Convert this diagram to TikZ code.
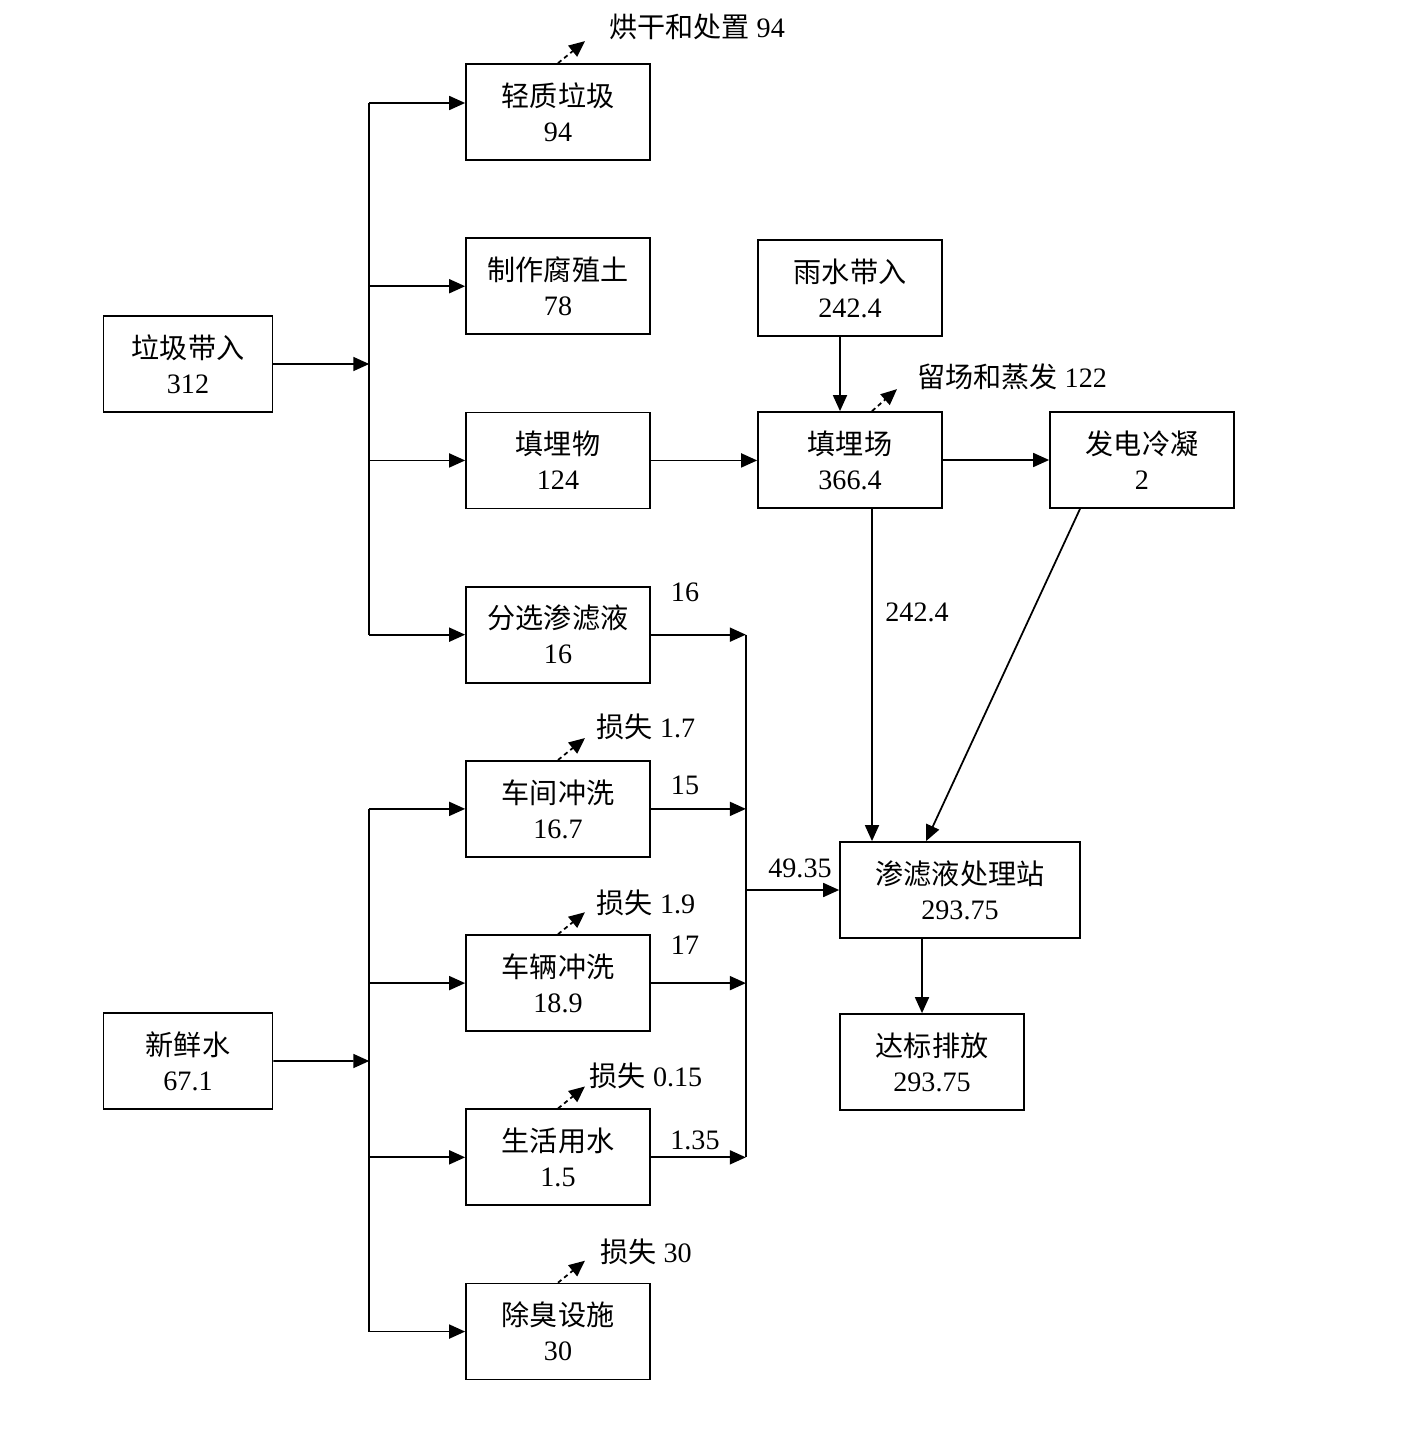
\documentclass[tikz,border=0pt]{standalone}
\usepackage{fontspec}
\setmainfont{Liberation Serif}
\newfontfamily\cjk{Noto Sans CJK SC}
\usetikzlibrary{arrows.meta,positioning,calc}
\newcommand{\zh}[1]{{\cjk #1}}

\begin{document}
\begin{tikzpicture}[
  x=0.02cm, y=-0.02cm,
  >={Triangle[length=0.32cm,width=0.28cm]},
  node distance=1.53cm,
  every node/.style={font=\fontsize{16pt}{20pt}\selectfont},
  flowbox/.style={draw, line width=1pt, minimum width=3.68cm, minimum height=1.92cm, align=center, inner sep=0pt},
  flowline/.style={->, line width=1pt},
  lossline/.style={->, line width=1pt, dash pattern=on 2.5pt off 2pt}
]
\useasboundingbox (0,0) rectangle (1402,1452);

% middle column
\node[flowbox] (light) at (558,112) {\zh{轻质垃圾}\\94};
\node[flowbox, below=of light] (humus) {\zh{制作腐殖土}\\78};
\node[flowbox, below=of humus] (fill) {\zh{填埋物}\\124};
\node[flowbox, below=of fill] (sort) {\zh{分选渗滤液}\\16};
\node[flowbox, below=of sort] (shop) {\zh{车间冲洗}\\16.7};
\node[flowbox, below=of shop] (truck) {\zh{车辆冲洗}\\18.9};
\node[flowbox, below=of truck] (domestic) {\zh{生活用水}\\1.5};
\node[flowbox, below=of domestic] (deodor) {\zh{除臭设施}\\30};

% sources and treatment
\node[flowbox, minimum width=3.38cm] (waste) at (188,364) {\zh{垃圾带入}\\312};
\node[flowbox, minimum width=3.38cm] (fresh) at (188,1061) {\zh{新鲜水}\\67.1};
\node[flowbox] (rain) at (850,288) {\zh{雨水带入}\\242.4};
\node[flowbox] (landfill) at (850,460) {\zh{填埋场}\\366.4};
\node[flowbox] (gen) at (1142,460) {\zh{发电冷凝}\\2};
\node[flowbox, minimum width=4.8cm] (station) at (960,890) {\zh{渗滤液处理站}\\293.75};
\node[flowbox] (outfall) at (932,1062) {\zh{达标排放}\\293.75};

% waste trunk
\coordinate (wasteJ) at ($(waste.east)!0.5!(humus.west |- waste.east)$);
\draw[flowline] (waste) -- (wasteJ);
\draw[line width=1pt] ([yshift=0.18cm]wasteJ |- light.west) -- (wasteJ |- sort.west);
\draw[flowline] ([yshift=0.18cm]wasteJ |- light.west) -- ([yshift=0.18cm]light.west);
\foreach \b in {humus,fill,sort}
  \draw[flowline] (wasteJ |- \b.west) -- (\b.west);

% fresh water trunk
\coordinate (freshJ) at ($(fresh.east)!0.5!(shop.west |- fresh.east)$);
\draw[flowline] (fresh) -- (freshJ);
\draw[line width=1pt] (freshJ |- shop.west) -- (freshJ |- deodor.west);
\foreach \b in {shop,truck,domestic,deodor}
  \draw[flowline] (freshJ |- \b.west) -- (\b.west);

% leachate collector
\coordinate (collect) at ([xshift=1.9cm]sort.east);
\draw[line width=1pt] (collect) -- (collect |- domestic.east);
\foreach \b in {sort,shop,truck,domestic}
  \draw[flowline] (\b.east) -- (collect |- \b.east);
\draw[flowline] (collect |- station.west) -- (station.west);
\node (v16) at (685,592) {16};
\node (v15) at (685,785) {15};
\node (v17) at (685,945) {17};
\node (v135) at (695,1140) {1.35};
\node (v4935) at (800,868) {49.35};

% losses
\foreach \b in {light,shop,truck,domestic,deodor}
  \coordinate (\b Out) at ($(\b.north)+(27,-22)$);
\foreach \b in {light,shop,truck,domestic,deodor}
  \draw[lossline] (\b.north) -- (\b Out);
\node (dry) at (697,27) {\zh{烘干和处置} 94};
\node (loss1) at (646,727) {\zh{损失} 1.7};
\node (loss2) at (646,903) {\zh{损失} 1.9};
\node (loss3) at (646,1076) {\zh{损失} 0.15};
\node (loss4) at (646,1252) {\zh{损失} 30};

% landfill
\coordinate (landOut) at ($([xshift=0.44cm]landfill.north)+(25,-22)$);
\draw[lossline] ([xshift=0.44cm]landfill.north) -- (landOut);
\node (evap) at (1012,377) {\zh{留场和蒸发} 122};
\draw[flowline] ([xshift=-0.2cm]rain.south) -- ([xshift=-0.2cm]landfill.north);
\draw[flowline] (fill.east) -- (fill.east -| landfill.west);
\draw[flowline] (landfill) -- (gen);
\coordinate (landDown) at ([xshift=0.44cm]landfill.south);
\draw[flowline] (landDown) -- (landDown |- station.north);
\node (v2424) at (917,612) {242.4};
\draw[flowline] ([xshift=-1.24cm]gen.south) -- ([xshift=-0.68cm]station.north);
\coordinate (outIn) at ([xshift=-0.2cm]outfall.north);
\draw[flowline] (outIn |- station.south) -- (outIn);
\end{tikzpicture}
\end{document}
